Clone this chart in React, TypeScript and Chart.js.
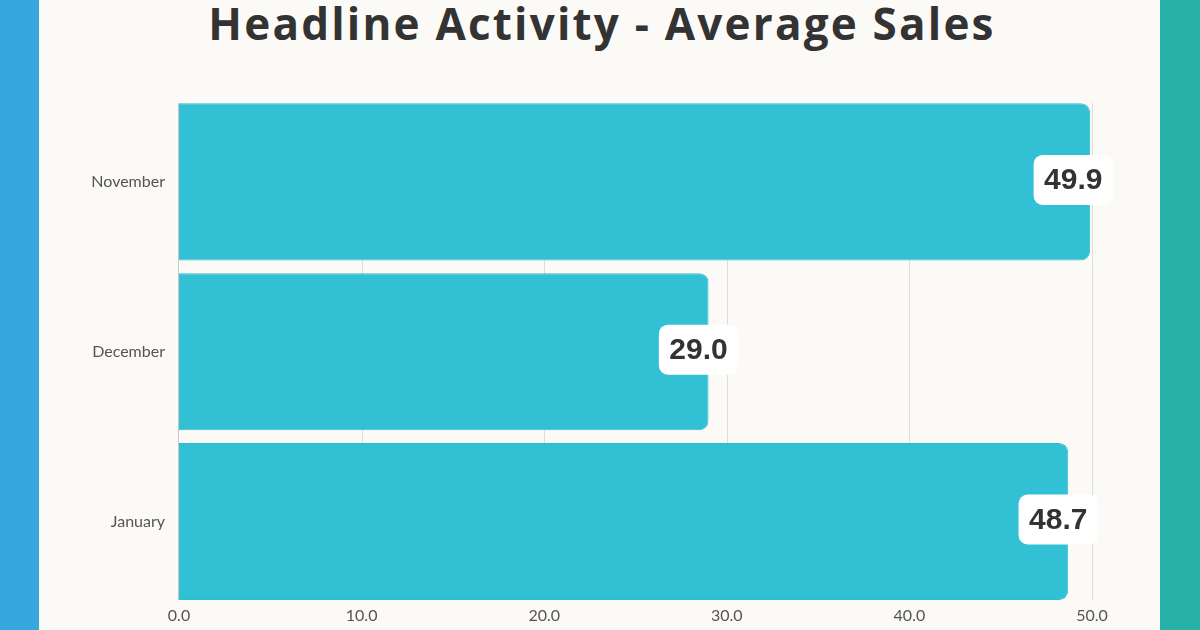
import React, { useEffect, useRef } from "react";
import { Chart, registerables } from "chart.js";

Chart.register(...registerables);

const categories = ["November", "December", "January"];
const averageSales = [49.9, 29.0, 48.7];
const xTicks = [0, 10, 20, 30, 40, 50];
const titleText = "Headline Activity - Average Sales";

const gridPlugin = {
  id: "clippedGrid",
  beforeDatasetsDraw(chart: any) {
    const ctx = chart.ctx;
    const meta = chart.getDatasetMeta(0);
    const first = meta.data[0];
    const last = meta.data[meta.data.length - 1];
    const top = Math.round(first.y - first.height / 2);
    const bottom = Math.round(last.y + last.height / 2);
    const xs = chart.scales.x;
    ctx.save();
    ctx.lineWidth = 1;
    ctx.strokeStyle = "#dddddd";
    xTicks.forEach((t, i) => {
      if (i === 0) return;
      const x = Math.round(xs.getPixelForValue(t)) + 0.5;
      ctx.beginPath();
      ctx.moveTo(x, top);
      ctx.lineTo(x, bottom);
      ctx.stroke();
    });
    ctx.strokeStyle = "#c8c8c8";
    const x0 = Math.round(xs.getPixelForValue(0)) - 0.5;
    ctx.beginPath();
    ctx.moveTo(x0, top);
    ctx.lineTo(x0, bottom);
    ctx.stroke();
    ctx.restore();
  },
};

const valueLabelPlugin = {
  id: "valueLabels",
  afterDatasetsDraw(chart: any) {
    const ctx = chart.ctx;
    const meta = chart.getDatasetMeta(0);
    ctx.save();
    ctx.font = "bold 30px 'Liberation Sans', Arial, sans-serif";
    ctx.textAlign = "center";
    ctx.textBaseline = "middle";
    meta.data.forEach((bar: any, i: number) => {
      const text = averageSales[i].toFixed(1);
      const tw = ctx.measureText(text).width;
      const w = tw + 21;
      const h = 50;
      let cx = bar.x - 10;
      if (cx + w / 2 > 1113) cx = 1113 - w / 2;
      const cy = bar.y - 2;
      const x0 = cx - w / 2;
      const y0 = cy - h / 2;
      ctx.fillStyle = "#ffffff";
      ctx.beginPath();
      (ctx as any).roundRect(x0, y0, w, h, 9);
      ctx.fill();
      ctx.fillStyle = "#333333";
      ctx.fillText(text, cx, cy + 1);
    });
    ctx.restore();
  },
};

export default function App() {
  const canvasRef = useRef<HTMLCanvasElement | null>(null);

  useEffect(() => {
    if (!canvasRef.current) return;
    const chart = new Chart(canvasRef.current, {
      type: "bar",
      data: {
        labels: categories,
        datasets: [
          {
            data: averageSales,
            backgroundColor: "#32c0d5",
            borderColor: "#2fbcd1",
            borderWidth: 1,
            borderRadius: 9,
            categoryPercentage: 0.925,
            barPercentage: 1,
          },
        ],
      },
      options: {
        indexAxis: "y",
        animation: false,
        responsive: false,
        maintainAspectRatio: false,
        layout: { padding: { left: 0, right: 108, top: 97, bottom: 0 } },
        plugins: {
          legend: { display: false },
          tooltip: { enabled: false },
          title: { display: false },
        },
        scales: {
          x: {
            min: 0,
            max: 50,
            afterBuildTicks: (scale: any) => {
              scale.ticks = xTicks.map((v) => ({ value: v }));
            },
            afterFit: (scale: any) => {
              scale.height = 23;
            },
            grid: { display: false, drawTicks: false },
            border: { display: false },
            ticks: {
              padding: 0,
              color: "#555555",
              font: { family: "Lato", size: 16 },
              callback: (v: any) => Number(v).toFixed(1),
            },
          },
          y: {
            afterFit: (scale: any) => {
              scale.width = 179;
            },
            grid: { display: false, drawTicks: false },
            border: { display: false },
            ticks: {
              padding: 14,
              color: "#555555",
              font: { family: "Lato", size: 16 },
            },
          },
        },
      },
      plugins: [gridPlugin, valueLabelPlugin],
    });
    return () => chart.destroy();
  }, []);

  return (
    <div
      style={{
        position: "fixed",
        left: 0,
        top: 0,
        width: 1200,
        height: 630,
        background: "#fcfaf6",
        overflow: "hidden",
      }}
    >
      <div style={{ position: "absolute", left: 0, top: 0, width: 39, height: 630, background: "#37a7df" }} />
      <div style={{ position: "absolute", left: 1160, top: 0, width: 40, height: 630, background: "#27b2a8" }} />
      <div
        style={{
          position: "absolute",
          left: 0,
          top: 1,
          width: 1200,
          textAlign: "center",
          fontFamily: "'Open Sans', sans-serif",
          fontWeight: 700,
          fontSize: 44,
          lineHeight: "44px",
          letterSpacing: 2.2,
          color: "#333333",
          paddingLeft: 2,
        }}
      >
        {titleText}
      </div>
      <canvas
        ref={canvasRef}
        width={1200}
        height={630}
        style={{ position: "absolute", left: 0, top: 0, width: 1200, height: 630 }}
      />
    </div>
  );
}
